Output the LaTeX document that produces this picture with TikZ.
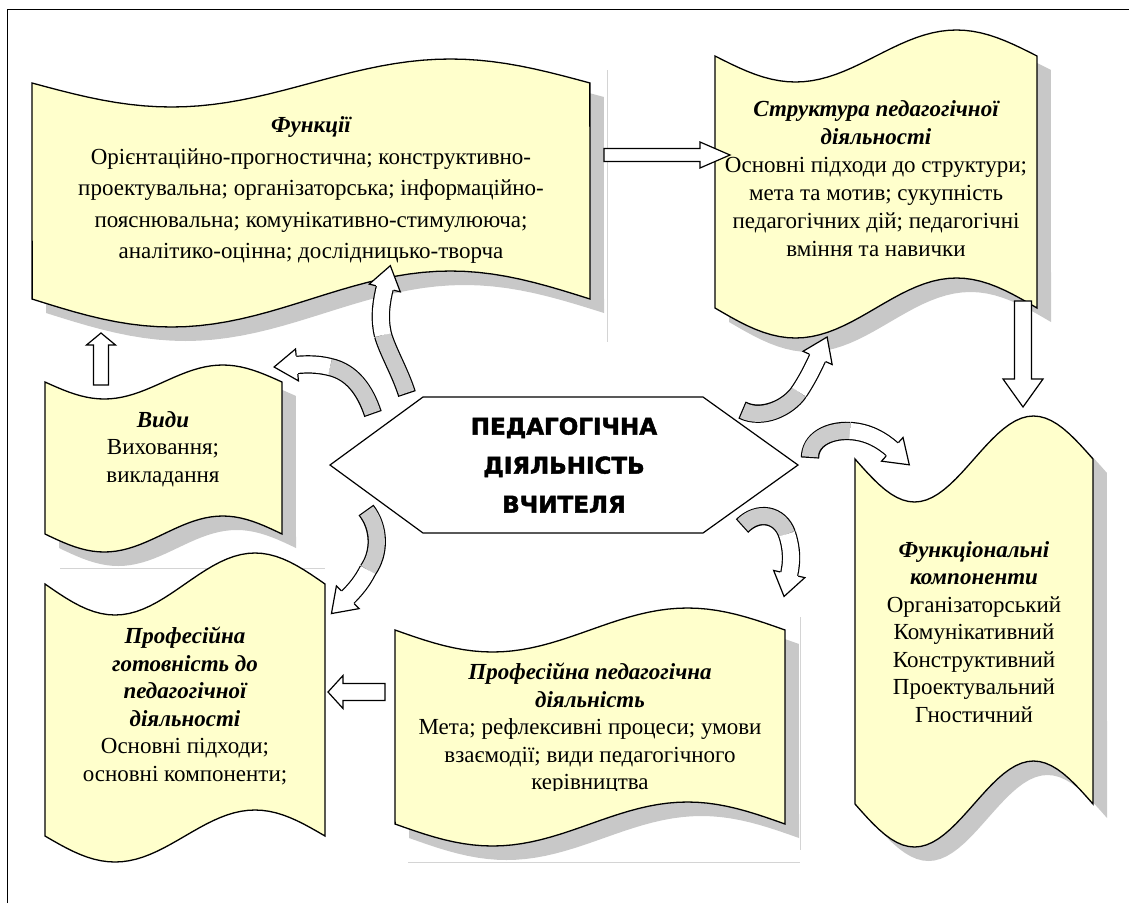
\documentclass[tikz,border=0pt]{standalone}
\usepackage{fontspec}
\setmainfont{Liberation Serif}
\newfontfamily\hubfont{DejaVu Sans Bold}[FakeBold=2]
\definecolor{scrollyellow}{RGB}{255,255,204}
\definecolor{shadowgray}{RGB}{200,200,200}
\definecolor{ribbongray}{RGB}{204,204,204}
\definecolor{framegray}{RGB}{212,212,212}
\usetikzlibrary{
    decorations.markings,
    calc
}
\newcommand{\boxhead}[1]{{\bfseries\itshape #1}}
\newcommand{\blockarrow}[6]{%
    \draw[blockarrow, shift={(#1)}, rotate=#2]
        (0,-#4) -- ({#3-#6},-#4) -- ({#3-#6},-#5) -- (#3,0)
        -- ({#3-#6},#5) -- ({#3-#6},#4) -- (0,#4) -- cycle;}
\newcommand{\ribbon}[2]{%
    \draw[ribbonedge] #1; \draw[ribbonedge] #2;
    \draw[ribbonback] #1;
    \draw[ribbonfront] #2;}
\tikzset{
    scrolltext/.style={align=center, inner sep=0pt, font=\fontsize{23}{27.5}\selectfont},
    blockarrow/.style={draw=black, fill=white, line width=1.2pt, line join=miter},
    ribbonedge/.style={line width=18.4pt, black},
    ribbonback/.style={line width=16pt, ribbongray, shorten <=1.2pt},
    ribbonfront/.style={line width=16pt, white, postaction={decorate, decoration={markings,
        mark=at position 1 with {
            \fill[white] (-1,-16) -- (22,0) -- (-1,16) -- cycle;
            \draw[black, line width=1.2pt, line join=miter] (-1,-9.2) -- (-1,-16) -- (22,0) -- (-1,16) -- (-1,9.2);}}}},
}
\begin{document}
\begin{tikzpicture}[x=1pt, y=-1pt]
    \useasboundingbox (0,0) rectangle (1129,903);
    % frame
    \draw[line width=1.6pt] (7.5,903) -- (7.5,9.5) -- (1129,9.5);
    % faint frame lines
    \draw[framegray, line width=0.8pt] (607,70) -- (607,342);
    \draw[framegray, line width=0.8pt] (60,568) -- (325,568);
    \draw[framegray, line width=0.8pt] (800,617) -- (800,850);
    \draw[framegray, line width=0.8pt] (408,862) -- (800,862);

    % shadows of the scrolls
    \foreach \xa/\xb/\ya/\aa/\yb/\ab in {32/590/83/24/299/28, 715/1037/56/26/308/30,
        45/282/382/17/534/18, 855/1093/459/43/804/43, 395/785/630/22/824/22} {
        \fill[shadowgray, shift={(14,14)}] (\xa,\ya)
            -- plot[domain=0:1, samples=41] ({\xa+(\xb-\xa)*\x},{\ya+\aa*sin(360*\x)})
            -- (\xb,\yb)
            -- plot[domain=1:0, samples=41] ({\xa+(\xb-\xa)*\x},{\yb+\ab*sin(360*\x)}) -- cycle;
    }
    % scrolls
    \foreach \xa/\xb/\ya/\aa/\yb/\ab in {32/590/83/24/299/28, 715/1037/56/26/308/30,
        45/282/382/17/534/18, 855/1093/459/43/804/43, 395/785/630/22/824/22,
        45/325/584/31/836/26} {
        \filldraw[fill=scrollyellow, draw=black, line width=1.3pt] (\xa,\ya)
            -- plot[domain=0:1, samples=41] ({\xa+(\xb-\xa)*\x},{\ya+\aa*sin(360*\x)})
            -- (\xb,\yb)
            -- plot[domain=1:0, samples=41] ({\xa+(\xb-\xa)*\x},{\yb+\ab*sin(360*\x)}) -- cycle;
    }

    % scroll texts
    \node[scrolltext, font=\fontsize{23}{31.5}\selectfont] (funcs) at (311,190)
        {\boxhead{Функції}\\Орієнтаційно-прогностична; конструктивно-\\проектувальна; організаторська; інформаційно-\\пояснювальна; комунікативно-стимулююча;\\аналітико-оцінна; дослідницько-творча};
    \node[scrolltext, font=\fontsize{23}{28}\selectfont] (struct) at (876,179)
        {\boxhead{Структура педагогічної}\\\boxhead{діяльності}\\Основні підходи до структури;\\мета та мотив; сукупність\\педагогічних дій; педагогічні\\вміння та навички};
    \node[scrolltext] (kinds) at (163,449) {\boxhead{Види}\\Виховання;\\викладання};
    \node[scrolltext] (fcomp) at (974,632)
        {\boxhead{Функціональні}\\\boxhead{компоненти}\\Організаторський\\Комунікативний\\Конструктивний\\Проектувальний\\Гностичний};
    \node[scrolltext] (ready) at (185,706)
        {\boxhead{Професійна}\\\boxhead{готовність до}\\\boxhead{педагогічної}\\\boxhead{діяльності}\\Основні підходи;\\основні компоненти;};
    \begin{scope}
        \clip (395,600) rectangle (785,790);
        \node[scrolltext] (profact) at (590,729)
            {\boxhead{Професійна педагогічна}\\\boxhead{діяльність}\\Мета; рефлексивні процеси; умови\\взаємодії; види педагогічного\\керівництва};
    \end{scope}

    % centre
    \draw[line width=1.2pt, fill=white] (330,465) -- (423,397) -- (703,397) -- (798,465) -- (703,533) -- (423,533) -- cycle;
    \node[align=center, inner sep=0pt, font=\hubfont\fontsize{23}{39}\selectfont] (hub) at (564,465)
        {ПЕДАГОГІЧНА\\ДІЯЛЬНІСТЬ\\ВЧИТЕЛЯ};

    % block arrows
    \coordinate (toStruct) at (604,155);
    \coordinate (toComp) at (1023,301);
    \coordinate (toFuncs) at (101,385);
    \coordinate (toReady) at (385,692);
    \blockarrow{toStruct}{0}{126}{6.5}{13}{30}
    \blockarrow{toComp}{270}{106}{8.5}{20}{28}
    \blockarrow{toFuncs}{90}{52}{7.5}{14.5}{12}
    \blockarrow{toReady}{180}{57}{8.5}{16.5}{15}

    % curved arrows round the centre
    \ribbon{(407,394) .. controls (400,372) and (388,352) .. (383,335)}
           {(383,335) .. controls (379,318) and (381,303) .. (385,287)}
    \ribbon{(373,414) .. controls (365,390) and (352,372) .. (330,367)}
           {(330,367) .. controls (318,364) and (307,364) .. (296,365)}
    \ribbon{(366,510) .. controls (380,528) and (380,553) .. (368,570)}
           {(368,570) .. controls (362,582) and (355,590) .. (347,598)}
    \ribbon{(742,410) .. controls (762,420) and (788,408) .. (799,392)}
           {(799,392) .. controls (807,380) and (813,368) .. (818,357)}
    \ribbon{(810,458) .. controls (810,440) and (828,430) .. (850,431)}
           {(850,431) .. controls (868,432) and (882,440) .. (893,450)}
    \ribbon{(742,526) .. controls (758,510) and (780,514) .. (787,534)}
           {(787,534) .. controls (792,549) and (792,562) .. (789,575)}
\end{tikzpicture}
\end{document}
